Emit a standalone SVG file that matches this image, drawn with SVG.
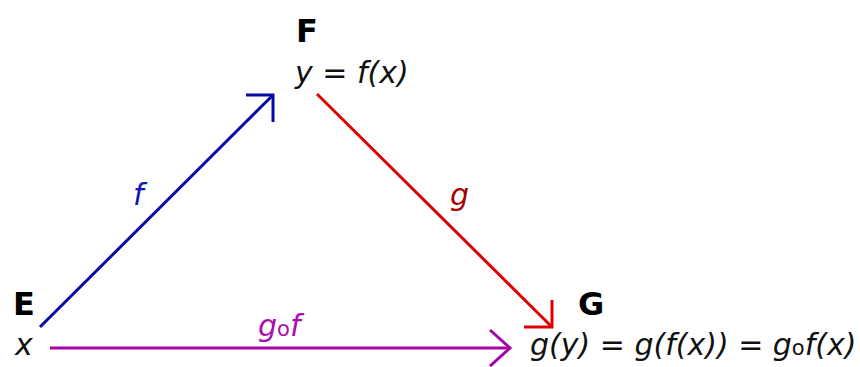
<svg xmlns="http://www.w3.org/2000/svg" width="860" height="367" viewBox="0 0 860 367">
<style>
.lbl{font-family:"DejaVu Sans",Verdana,sans-serif;}
.cap{font-family:"DejaVu Sans",Verdana,sans-serif;font-weight:bold;font-size:32px;fill:#000;}
.it{font-family:"DejaVu Sans",Verdana,sans-serif;font-style:italic;font-size:30px;fill:#111;}
.ln{fill:none;stroke-width:3;stroke-linecap:butt;stroke-linejoin:miter;}
</style>
<rect width="860" height="367" fill="#fff"/>
<g id="node-E">
<text class="cap" x="13" y="315">E</text>
<text class="it" x="15" y="355">x</text>
</g>
<g id="node-F">
<text class="cap" x="296" y="42">F</text>
<text class="it" x="295" y="83">y = f(x)</text>
</g>
<g id="node-G">
<text class="cap" x="578" y="315">G</text>
<text class="it" x="530" y="355">g(y) = g(f(x)) = g<tspan font-size="21" font-style="normal">o</tspan>f(x)</text>
</g>
<g id="connectors">
<g id="edge-f">
<path class="ln" stroke="#0a0aa8" d="M40,327 L273,95"/>
<path class="ln" stroke="#0a0aa8" d="M246,95 L273,95 L273,122"/>
<text class="it" x="133" y="205" fill="#1414b0" style="fill:#1414b0">f</text>
</g>
<g id="edge-g">
<path class="ln" stroke="#dd0000" d="M317,94 L552,327"/>
<path class="ln" stroke="#dd0000" d="M524,327 L552,327 L552,300"/>
<text class="it" x="450" y="205" style="fill:#a80000">g</text>
</g>
<g id="edge-gof">
<path class="ln" stroke="#a800a8" d="M50,348 L510,348"/>
<path class="ln" stroke="#a800a8" d="M490,330 L510,348 L490,366"/>
<text class="it" x="258" y="336" style="fill:#a810b0">g<tspan font-size="21" font-style="normal">o</tspan>f</text>
</g>
</g>
</svg>
